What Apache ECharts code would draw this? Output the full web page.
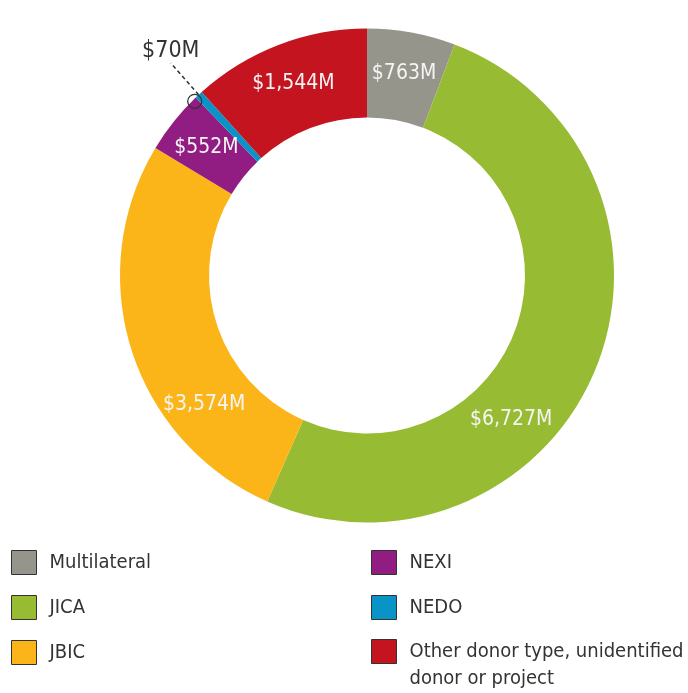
<!DOCTYPE html>
<html>
<head>
<meta charset="utf-8">
<script src="https://cdn.jsdelivr.net/npm/echarts@6/dist/echarts.min.js"></script>
<style>
  html, body { margin: 0; padding: 0; background: #fff; }
  #chart { width: 688px; height: 693px; }
</style>
</head>
<body>
<div id="chart"></div>
<script>
const donors = ['Multilateral', 'JICA', 'JBIC', 'NEXI', 'NEDO', 'Other donor type, unidentified donor or project']
const amounts = [763, 6727, 3574, 552, 70, 1544]
const colors = ['#96958b', '#97bb33', '#fbb519', '#911c82', '#0a93c6', '#c3141f']
const leftLegend = ['Multilateral', 'JICA', 'JBIC']
const rightLegend = ['NEXI', 'NEDO']
const lastLegend = ['Other donor type, unidentified donor or project']

const font = "'DejaVu Sans Condensed', 'Liberation Sans Narrow', sans-serif"
const money = v => '$' + v.toLocaleString('en-US') + 'M'

// a few labels sit off the slice's mid angle in the original
const labelOffsets = { 1: [-46, 66], 2: [33, 67] }

const chart = echarts.init(document.getElementById('chart'))

const legendBase = {
  orient: 'vertical',
  top: 550,
  height: 300,
  itemWidth: 25,
  itemHeight: 24,
  itemGap: 20,
  padding: 0,
  icon: 'rect',
  itemStyle: { borderColor: '#333', borderWidth: 1 },
  textStyle: { fontFamily: font, fontSize: 20, color: '#333', lineHeight: 24, padding: [0, 0, 0, 8] }
}

chart.setOption({
  animation: false,
  color: colors,
  legend: [
    Object.assign({}, legendBase, { left: 11, data: leftLegend }),
    Object.assign({}, legendBase, { left: 371, data: rightLegend }),
    // two-line entry: an empty first line keeps the icon level with the first text line
    Object.assign({}, legendBase, {
      left: 371,
      top: 611,
      data: lastLegend,
      textStyle: Object.assign({}, legendBase.textStyle, { lineHeight: 27 }),
      formatter: () => '\nOther donor type, unidentified\ndonor or project'
    })
  ],
  series: [{
    type: 'pie',
    center: [367, 275.5],
    radius: [158, 247],
    startAngle: 90,
    clockwise: true,
    avoidLabelOverlap: false,
    label: {
      position: 'inside',
      color: '#f4f4f4',
      fontFamily: font,
      fontSize: 21,
      formatter: p => money(p.value)
    },
    labelLine: { show: false },
    data: donors.map((name, i) => {
      const item = { name, value: amounts[i] }
      if (labelOffsets[i]) item.label = { offset: labelOffsets[i] }
      if (name === 'NEDO') {
        item.label = { position: 'outside', color: '#333', fontSize: 23 }
        item.labelLine = {
          show: true, length: 38, length2: 0,
          lineStyle: { color: '#333', width: 1.5, type: [4, 3] }
        }
      }
      return item
    }),
    labelLayout: p => {
      if (p.dataIndex !== 4 || !p.labelLinePoints) return {}
      const end = p.labelLinePoints[p.labelLinePoints.length - 1]
      return { x: end[0] - 2, y: end[1] - 4, align: 'center', verticalAlign: 'bottom' }
    }
  }]
})

// small ring where the NEDO callout meets the donut
const layout = chart.getModel().getSeriesByIndex(0).getData().getItemLayout(4)
const mid = (layout.startAngle + layout.endAngle) / 2 - 0.03
const ringR = layout.r - 2
chart.setOption({
  graphic: [{
    type: 'circle',
    shape: {
      cx: layout.cx + ringR * Math.cos(mid),
      cy: layout.cy + ringR * Math.sin(mid),
      r: 7
    },
    style: { fill: 'none', stroke: '#333', lineWidth: 1.3 },
    z: 100
  }]
})
</script>
</body>
</html>
